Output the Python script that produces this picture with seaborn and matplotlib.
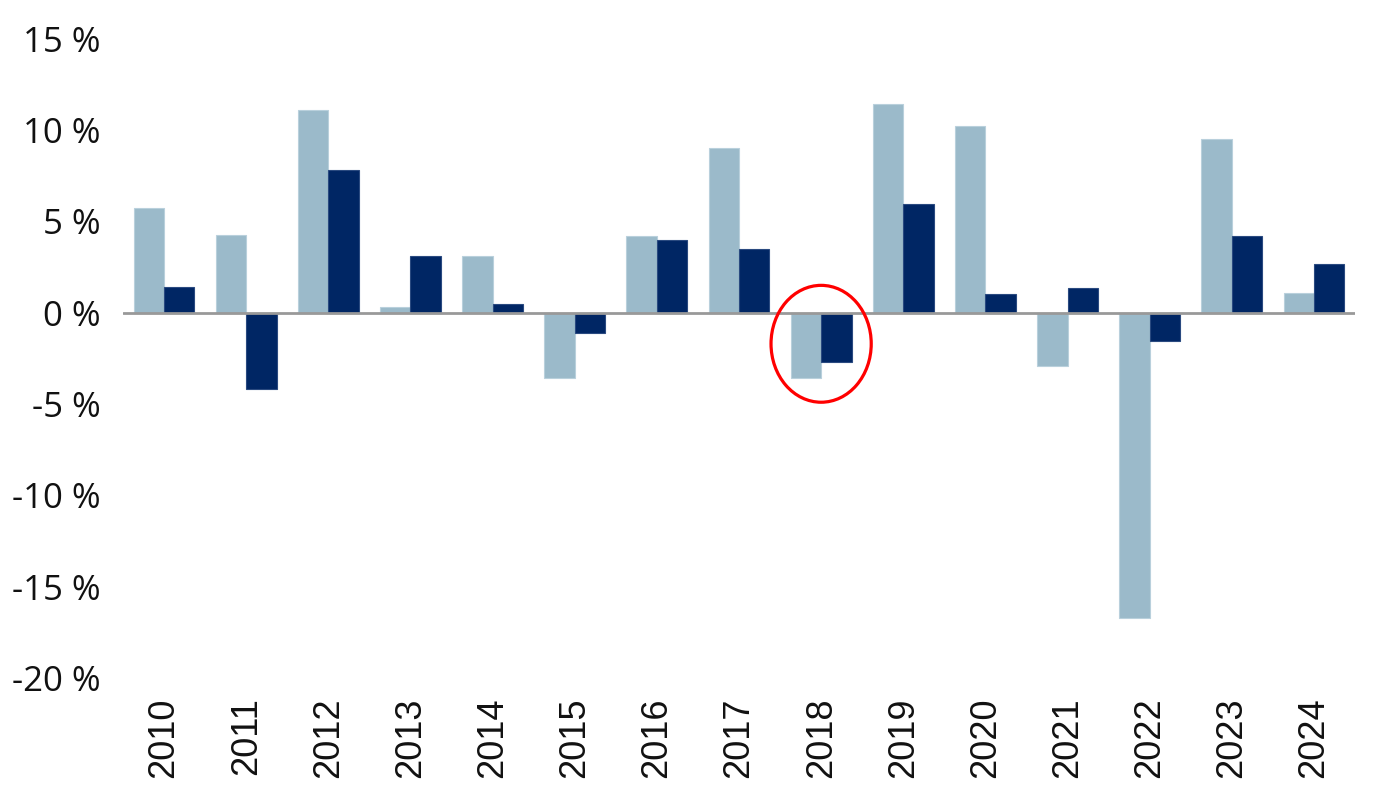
import matplotlib
matplotlib.use("Agg")
import matplotlib.pyplot as plt
from matplotlib.patches import Ellipse
import seaborn as sns
import pandas as pd

years = ["2010", "2011", "2012", "2013", "2014", "2015", "2016", "2017",
         "2018", "2019", "2020", "2021", "2022", "2023", "2024"]
series_a = [5.76, 4.25, 11.09, 0.29, 3.11, -3.56, 4.2, 9.0,
            -3.56, 11.42, 10.25, -2.89, -16.7, 9.53, 1.09]
series_b = [1.42, -4.15, 7.8, 3.11, 0.47, -1.13, 3.96, 3.49,
            -2.71, 5.95, 1.04, 1.36, -1.53, 4.2, 2.67]
series_names = ["A", "B"]
colors = ["#9BBACA", "#002664"]
edge_colors = ["#B9D0DC", "#2A4A80"]
y_ticks = [15, 10, 5, 0, -5, -10, -15, -20]
highlight_year = "2018"

df = pd.DataFrame({
    "year": years * 2,
    "value": series_a + series_b,
    "series": [series_names[0]] * len(years) + [series_names[1]] * len(years),
})

sns.set_theme(style="white")
plt.rcParams["font.family"] = ["Open Sans", "DejaVu Sans"]

fig = plt.figure(figsize=(13.8, 8), dpi=100)
ax = fig.add_axes([0.0891, 0.1525, 0.8928, 0.799])

sns.barplot(data=df, x="year", y="value", hue="series", order=years,
            hue_order=series_names, palette=colors, width=0.74, gap=0,
            legend=False, ax=ax, saturation=1)

for cont, ec in zip(ax.containers, edge_colors):
    for p in cont:
        p.set_edgecolor(ec)
        p.set_linewidth(0.8)

ax.axhline(0, color="#999999", lw=2, zorder=5)

ax.set_xlim(-0.5, len(years) - 0.5)
ax.set_ylim(-20, 15)
ax.set_yticks(y_ticks)
ax.set_yticklabels([f"{t} %" for t in y_ticks], fontsize=25, color="#111111")
ax.tick_params(axis="y", length=0, pad=16)
ax.tick_params(axis="x", length=0, pad=14)
ax.set_xticks(range(len(years)))
ax.set_xticklabels(years, rotation=90, fontsize=26, color="#111111",
                   family=["Liberation Sans", "DejaVu Sans"])
ax.set_xlabel("")
ax.set_ylabel("")
for s in ax.spines.values():
    s.set_visible(False)
ax.grid(False)

idx = years.index(highlight_year)
ell = Ellipse((idx, -1.7), 1.22, 6.4, fill=False, edgecolor="#FF0000",
              lw=2.3, zorder=6, clip_on=False)
ax.add_patch(ell)

fig.savefig("out.png", dpi=100, facecolor="white")
